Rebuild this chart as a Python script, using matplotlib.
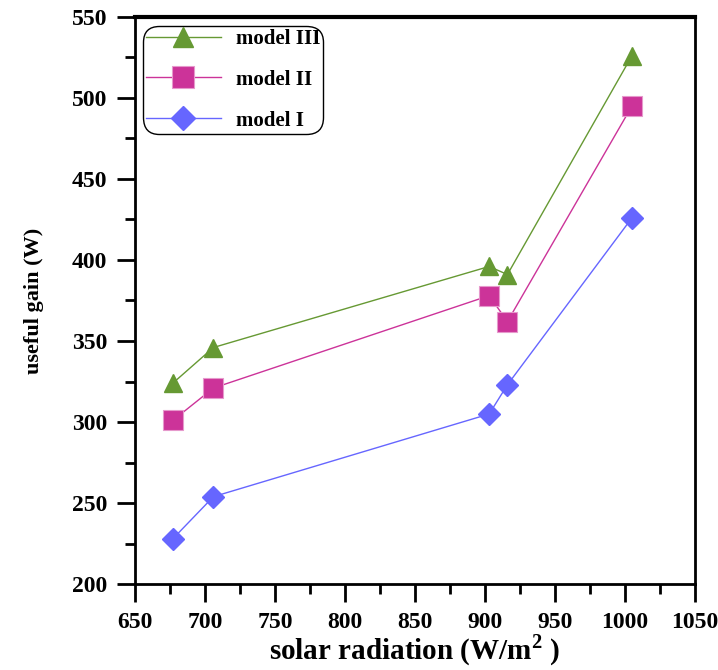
# chart render script
import matplotlib
matplotlib.use('Agg')
import matplotlib.pyplot as plt
from matplotlib.ticker import MultipleLocator

# data
radiation = [677, 706, 903, 916, 1005]
model_3 = [324, 346, 396, 391, 526]
model_2 = [301, 321, 378, 362, 495]
model_1 = [228, 254, 305, 323, 426]

plt.rcParams['font.family'] = ['Liberation Serif', 'DejaVu Serif']
plt.rcParams['font.weight'] = 'bold'
plt.rcParams['mathtext.fontset'] = 'custom'
plt.rcParams['mathtext.bf'] = 'Liberation Serif:bold'

fig = plt.figure(figsize=(7.18, 6.70), dpi=100)
ax = fig.add_axes([0.188, 0.128, 0.78, 0.847])

ax.plot(radiation, model_3, color='#669933', lw=1, marker='^', ms=13,
        mec='#669933', label='model III')
ax.plot(radiation, model_2, color='#cc3399', lw=1, marker='s', ms=14,
        mec='#e699cc', mew=0.8, label='model II')
ax.plot(radiation, model_1, color='#6666ff', lw=1, marker='D', ms=11,
        mec='#6666ff', label='model I')

ax.set_xlim(650, 1050)
ax.set_ylim(200, 550)
ax.xaxis.set_major_locator(MultipleLocator(50))
ax.xaxis.set_minor_locator(MultipleLocator(25))
ax.yaxis.set_major_locator(MultipleLocator(50))
ax.yaxis.set_minor_locator(MultipleLocator(25))

for s in ax.spines.values():
    s.set_linewidth(2)
ax.spines['top'].set_linewidth(3)

ax.tick_params(which='major', direction='out', length=13, width=2,
               labelsize=17, pad=7)
ax.tick_params(which='minor', direction='out', length=7, width=2)
ax.tick_params(top=False, right=False, which='both')

ax.set_xlabel('solar radiation (W/m$^{\\mathbf{2}}$ )', fontsize=21,
              fontweight='bold')
ax.xaxis.set_label_coords(0.5, -0.085)
ax.set_ylabel('useful gain (W)', fontsize=16, fontweight='bold')
ax.yaxis.set_label_coords(-0.163, 0.5)

leg = ax.legend(loc='upper left', bbox_to_anchor=(0.014, 0.984),
                fontsize=15, fancybox=True, framealpha=1, edgecolor='black',
                handlelength=3.6, labelspacing=1.0, borderpad=0.15,
                handletextpad=0.7, borderaxespad=0, markerscale=1.15)
leg.get_frame().set_linewidth(1)
leg.get_frame().set_boxstyle('round', pad=0, rounding_size=0.8)

fig.savefig('out.png', dpi=100)
